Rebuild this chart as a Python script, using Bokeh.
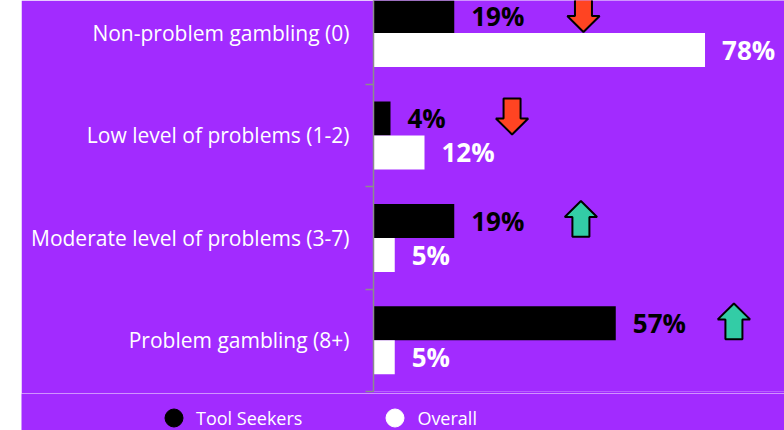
from bokeh.plotting import figure
from bokeh.models import (Range1d, FixedTicker, ColumnDataSource, Legend, LegendItem, Spacer)
from bokeh.layouts import row, column
from bokeh.core.properties import value
from bokeh.embed import file_html
from bokeh.resources import INLINE

# ---- data ----
categories = ["Non-problem gambling (0)", "Low level of problems (1-2)",
              "Moderate level of problems (3-7)", "Problem gambling (8+)"]
tool_seekers = [19, 4, 19, 57]
overall = [78, 12, 5, 5]
change = ["down", "down", "up", "up"]
series_names = ["Tool Seekers", "Overall"]

# ---- style / layout ----
PURPLE = "#A22BFF"
RED = "#FF4422"
TEAL = "#33CCA6"
AXIS_GRAY = "#8C8C8C"
BAR_H = 0.332
arrow_x = [49.4, 32.6, 48.8, 84.8]     # horizontal placement of the trend arrows (in % units)
ARROW_TOP, ARROW_BOT = -0.36, -0.01     # relative to category centre
HEAD_LEN = 0.156
HEAD_W, SHAFT_W = 7.6, 4.0

idx = list(range(len(categories)))

p = figure(width=763, height=393, output_backend="svg", toolbar_location=None,
           x_range=Range1d(0, 96.7), y_range=Range1d(3.5, -0.318),
           min_border_left=352, min_border_right=0, min_border_top=0, min_border_bottom=2)
p.background_fill_color = PURPLE
p.border_fill_color = PURPLE
p.outline_line_color = None
p.grid.visible = False
p.xaxis.visible = False

src_ts = ColumnDataSource(dict(y=[i - BAR_H / 2 for i in idx], v=tool_seekers,
                               lab=[f"{v}%" for v in tool_seekers]))
src_ov = ColumnDataSource(dict(y=[i + BAR_H / 2 for i in idx], v=overall,
                               lab=[f"{v}%" for v in overall]))

p.hbar(y="y", left=0, right="v", height=BAR_H, source=src_ts, fill_color="black", line_color=None)
p.hbar(y="y", left=0, right="v", height=BAR_H, source=src_ov, fill_color="white", line_color=None)

p.text(x="v", y="y", text="lab", source=src_ts, x_offset=17, text_color="black",
       text_font=value("Open Sans"), text_font_style="bold", text_font_size="26px",
       text_baseline="middle", text_align="left")
p.text(x="v", y="y", text="lab", source=src_ov, x_offset=17, text_color="white",
       text_font=value("Open Sans"), text_font_style="bold", text_font_size="26px",
       text_baseline="middle", text_align="left")

# trend arrows
for cls_dir, color in (("down", RED), ("up", TEAL)):
    xs, ys = [], []
    for i, d, ax in zip(idx, change, arrow_x):
        if d != cls_dir:
            continue
        top, bot = i + ARROW_TOP, i + ARROW_BOT
        if d == "down":
            base, tail, tip = bot - HEAD_LEN, top, bot
        else:
            base, tail, tip = top + HEAD_LEN, bot, top
        xs.append([ax - SHAFT_W / 2, ax + SHAFT_W / 2, ax + SHAFT_W / 2, ax + HEAD_W / 2,
                   ax, ax - HEAD_W / 2, ax - SHAFT_W / 2])
        ys.append([tail, tail, base, base, tip, base, base])
    if xs:
        p.patches(xs, ys, fill_color=color, line_color="black", line_width=2)

# y axis
yax = p.yaxis[0]
yax.ticker = FixedTicker(ticks=idx, minor_ticks=[-0.5, 0.5, 1.5, 2.5, 3.5])
yax.major_label_overrides = {i: c for i, c in zip(idx, categories)}
yax.major_tick_line_color = None
yax.major_tick_out = 0
yax.major_tick_in = 0
yax.minor_tick_out = 8
yax.minor_tick_in = 0
yax.minor_tick_line_color = AXIS_GRAY
yax.minor_tick_line_width = 1.5
yax.axis_line_color = AXIS_GRAY
yax.axis_line_width = 1.5
yax.major_label_standoff = 16
yax.major_label_text_color = "white"
yax.major_label_text_font = "Open Sans"
yax.major_label_text_font_size = "21px"

# legend strip below the chart (own small figure so the legend is not clipped)
pl = figure(width=763, height=37, output_backend="svg", toolbar_location=None,
            x_range=Range1d(0, 1), y_range=Range1d(0, 1),
            x_axis_location=None, y_axis_location=None,
            min_border_left=0, min_border_right=0, min_border_top=0, min_border_bottom=0)
pl.background_fill_color = PURPLE
pl.border_fill_color = PURPLE
pl.outline_line_color = None
pl.grid.visible = False
# legend proxies: one point each, placed outside the visible range
r_ts = pl.scatter(x=[-10], y=[-10], marker="circle", size=18, fill_color="black", line_color="black")
r_ov = pl.scatter(x=[-10], y=[-10], marker="circle", size=18, fill_color="white", line_color="white")
legend = Legend(items=[LegendItem(label=series_names[0], renderers=[r_ts]),
                       LegendItem(label=series_names[1], renderers=[r_ov])],
                orientation="horizontal", location=(130, -10),
                glyph_width=45, glyph_height=45, label_standoff=-3, spacing=70,
                padding=0, margin=0, border_line_color=None, background_fill_alpha=0,
                label_text_color="white", label_text_font="Open Sans",
                label_text_font_size="18px")
pl.add_layout(legend, "center")

layout = column(row(Spacer(width=21, height=393), p),
                row(Spacer(width=21, height=37), pl))
open("out.html", "w").write(file_html(layout, INLINE))
